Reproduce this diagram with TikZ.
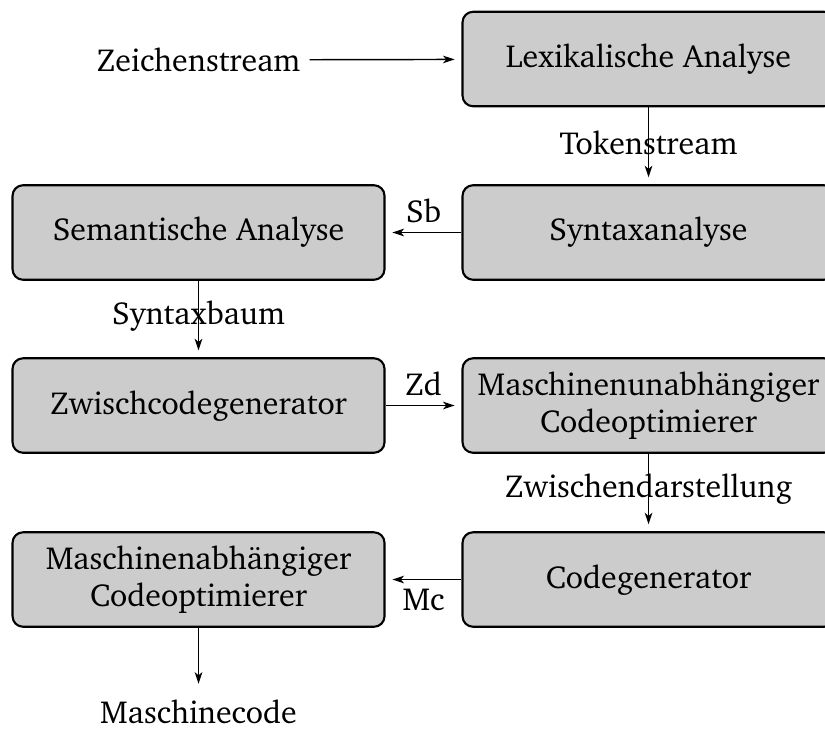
\documentclass[tikz,border=0pt]{standalone}
\usepackage[T1]{fontenc}
\usepackage{charter}
\usetikzlibrary{arrows.meta}
\tikzset{
  stagebox/.style={draw=black, thick, fill=gray!40, rounded corners=4pt,
    minimum width=4.96cm, minimum height=1.26cm, align=center},
  arr/.style={-{Stealth[length=4.4pt,width=2.9pt,inset=1.2pt]}, line width=0.55pt, shorten >=2.6pt},
  plain/.style={align=center},
  vlabel/.style={midway, yshift=1.2pt}
}
\begin{document}
\begin{tikzpicture}[font=\fontsize{12.1}{14.4}\selectfont]
\useasboundingbox (0,0) rectangle (11,-10.013);
\node[stagebox] (lex) at (8.647,-0.787) {Lexikalische Analyse};
\node[stagebox] (syn) at (8.647,-3.1) {Syntaxanalyse};
\node[stagebox] (sem) at (2.647,-3.1) {Semantische Analyse};
\node[stagebox] (zwc) at (2.647,-5.407) {Zwischcodegenerator};
\node[stagebox] (muo) at (8.647,-5.407) {Maschinenunabh\"angiger\\Codeoptimierer};
\node[stagebox] (cg) at (8.647,-7.727) {Codegenerator};
\node[stagebox] (mao) at (2.647,-7.727) {Maschinenabh\"angiger\\Codeoptimierer};
\node[plain] (zs) at (2.647,-0.8) {Zeichenstream};
\node[plain] (mc) at (2.647,-9.493) {Maschinecode};
\draw[arr] (zs) -- (lex);
\draw[arr] (lex) -- node[vlabel]{Tokenstream} (syn);
\draw[arr] (syn) -- node[above]{Sb} (sem);
\draw[arr] (sem) -- node[vlabel]{Syntaxbaum} (zwc);
\draw[arr] (zwc) -- node[above]{Zd} (muo);
\draw[arr] (muo) -- node[vlabel]{Zwischendarstellung} (cg);
\draw[arr] (cg) -- node[below]{Mc} (mao);
\draw[arr] (mao) -- (mc);
\end{tikzpicture}
\end{document}
